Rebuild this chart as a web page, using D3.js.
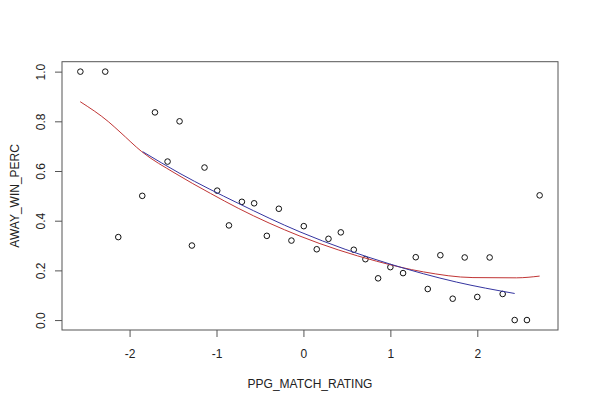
<!DOCTYPE html>
<html>
<head>
<meta charset="utf-8">
<script src="https://cdn.jsdelivr.net/npm/d3@7"></script>
<style>
  body { margin: 0; background: #fff; }
  text { font-family: "Liberation Sans", Arial, sans-serif; }
</style>
</head>
<body>
<div id="chart"></div>
<script>
// observed points
const ratingX = [-2.566, -2.28, -2.13, -1.854, -1.708, -1.563, -1.425, -1.283, -1.138, -0.992,
                 -0.857, -0.708, -0.567, -0.421, -0.283, -0.138, 0.004, 0.153, 0.288, 0.43,
                 0.579, 0.713, 0.859, 1.0, 1.146, 1.292, 1.43, 1.575, 1.717, 1.855,
                 2.0, 2.142, 2.292, 2.43, 2.571, 2.717];
const winPerc = [1.0, 1.0, 0.334, 0.5, 0.836, 0.638, 0.8, 0.3, 0.614, 0.521,
                 0.381, 0.476, 0.47, 0.339, 0.448, 0.32, 0.378, 0.285, 0.327, 0.353,
                 0.283, 0.245, 0.168, 0.213, 0.189, 0.253, 0.125, 0.261, 0.086, 0.252,
                 0.093, 0.252, 0.105, 0.0, 0.0, 0.502];

// red smoother
const redX = [-2.568, -2.245, -2.11, -1.86, -1.477, -1.07, -0.75, -0.04, 0.84, 1.38, 1.95, 2.45, 2.717];
const redY = [0.879, 0.799, 0.757, 0.678, 0.591, 0.51, 0.45, 0.338, 0.237, 0.194, 0.171, 0.17, 0.177];

// blue fit
const blueX = [-1.85, -1.42, -0.75, -0.04, 1.0, 1.76, 2.43];
const blueY = [0.678, 0.59, 0.47, 0.355, 0.225, 0.153, 0.107];

const xTicks = [-2, -1, 0, 1, 2];
const yTicks = [0, 0.2, 0.4, 0.6, 0.8, 1.0];

const width = 590, height = 407;
const margin = {top: 61.7, right: 32, bottom: 77, left: 62};
const visWidth = width - margin.left - margin.right;
const visHeight = height - margin.top - margin.bottom;

const svg = d3.select('#chart').append('svg')
  .attr('width', width)
  .attr('height', height);

const g = svg.append('g')
  .attr('transform', `translate(${margin.left}, ${margin.top})`);

// R style 4% padding around the data range
const xExt = d3.extent(ratingX);
const xPad = (xExt[1] - xExt[0]) * 0.04;
const x = d3.scaleLinear()
  .domain([xExt[0] - xPad, xExt[1] + xPad])
  .range([0, visWidth]);

const yExt = d3.extent(winPerc);
const yPad = (yExt[1] - yExt[0]) * 0.04;
const y = d3.scaleLinear()
  .domain([yExt[0] - yPad, yExt[1] + yPad])
  .range([visHeight, 0]);

const axisColor = '#555';
const fontFam = '"Liberation Sans", Arial, sans-serif';

// x axis
g.append('g')
  .attr('transform', `translate(0, ${visHeight})`)
  .call(d3.axisBottom(x).tickValues(xTicks).tickSize(7).tickSizeOuter(0).tickPadding(12)
    .tickFormat(d => String(d)))
  .call(a => a.select('.domain').remove())
  .call(a => a.selectAll('.tick line').attr('stroke', axisColor))
  .call(a => a.selectAll('.tick text')
    .attr('fill', '#222')
    .attr('font-size', 12)
    .attr('font-family', fontFam));

// y axis, labels rotated like base R
const yAxisG = g.append('g')
  .call(d3.axisLeft(y).tickValues(yTicks).tickSize(7).tickSizeOuter(0).tickFormat(d3.format('.1f')))
  .call(a => a.select('.domain').remove())
  .call(a => a.selectAll('.tick line').attr('stroke', axisColor));

yAxisG.selectAll('.tick text')
  .attr('x', null).attr('dy', null)
  .attr('transform', 'translate(-17, 0) rotate(-90)')
  .attr('text-anchor', 'middle')
  .attr('fill', '#222')
  .attr('font-size', 12)
  .attr('font-family', fontFam);

// box
g.append('rect')
  .attr('width', visWidth)
  .attr('height', visHeight)
  .attr('fill', 'none')
  .attr('stroke', axisColor)
  .attr('stroke-width', 1);

// axis titles
svg.append('text')
  .attr('x', margin.left + visWidth / 2)
  .attr('y', 388)
  .attr('text-anchor', 'middle')
  .attr('font-size', 12)
  .attr('fill', '#222')
  .text('PPG_MATCH_RATING');

svg.append('text')
  .attr('transform', `translate(19, ${margin.top + visHeight / 2}) rotate(-90)`)
  .attr('text-anchor', 'middle')
  .attr('font-size', 12)
  .attr('fill', '#222')
  .text('AWAY_WIN_PERC');

// points
const points = ratingX.map((d, i) => ({x: d, y: winPerc[i]}));
g.selectAll('circle')
  .data(points)
  .join('circle')
  .attr('cx', d => x(d.x))
  .attr('cy', d => y(d.y))
  .attr('r', 2.8)
  .attr('fill', 'none')
  .attr('stroke', '#111')
  .attr('stroke-width', 1);

// curves
const line = d3.line()
  .x(d => x(d[0]))
  .y(d => y(d[1]))
  .curve(d3.curveMonotoneX);

g.append('path')
  .datum(redX.map((d, i) => [d, redY[i]]))
  .attr('d', line)
  .attr('fill', 'none')
  .attr('stroke', '#c03535')
  .attr('stroke-width', 1);

g.append('path')
  .datum(blueX.map((d, i) => [d, blueY[i]]))
  .attr('d', line)
  .attr('fill', 'none')
  .attr('stroke', '#3535a0')
  .attr('stroke-width', 1);
</script>
</body>
</html>
